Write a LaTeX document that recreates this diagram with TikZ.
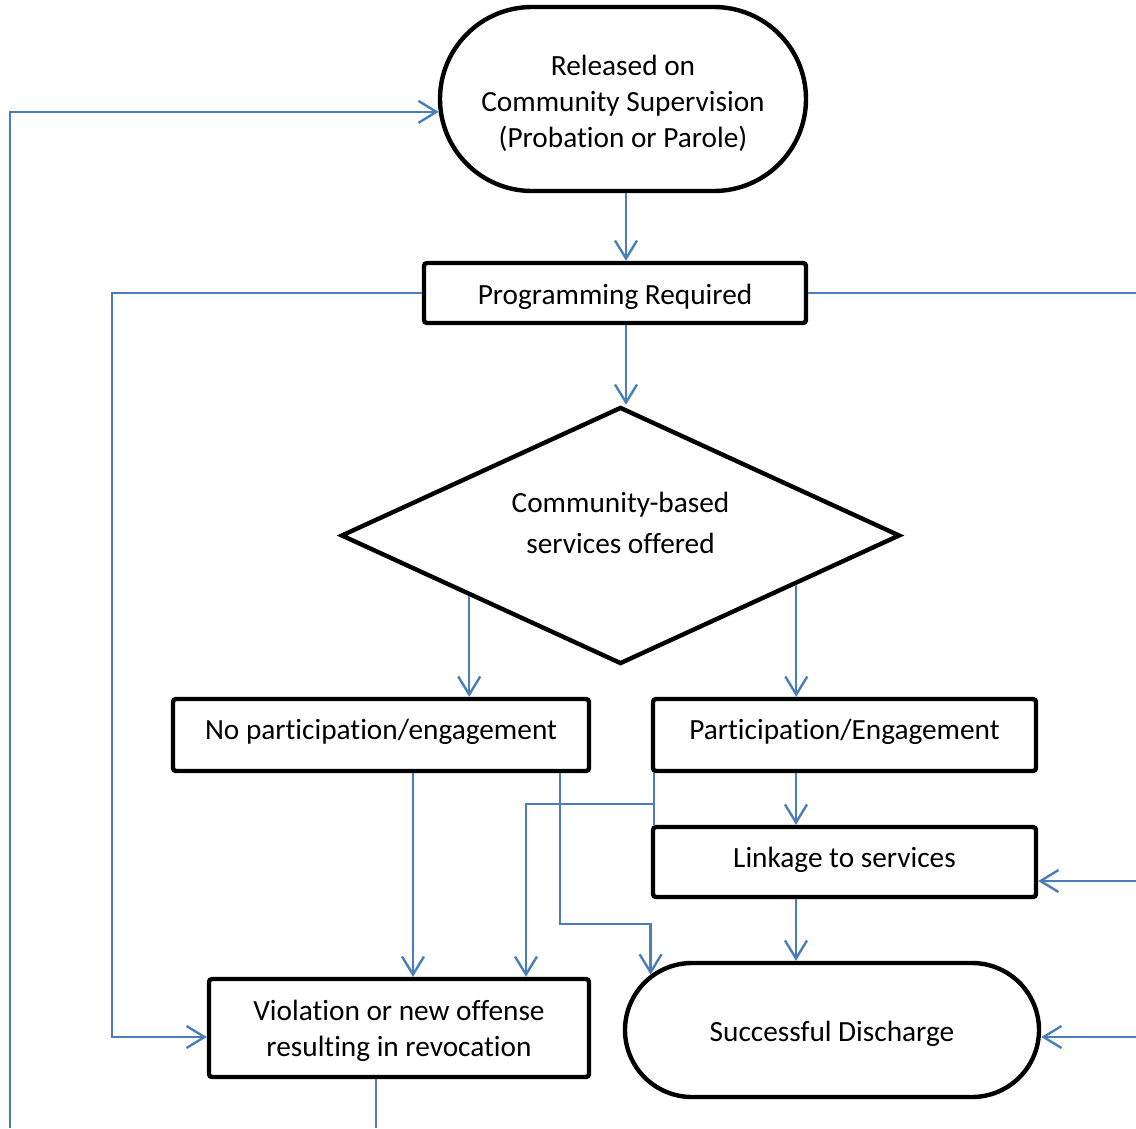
\documentclass[tikz,border=0pt]{standalone}
\usepackage{fontspec}
\setmainfont{Carlito}[Ligatures=NoCommon]
\usetikzlibrary{arrows.meta,shapes.geometric,shapes.misc,calc}
\definecolor{flowblue}{HTML}{4A7EBB}
\begin{document}
\begin{tikzpicture}[x=1pt,y=-1pt,
  every node/.style={font=\fontsize{29.3}{36}\selectfont, align=center, inner sep=0pt},
  box/.style={draw=black, line width=4.4pt, rounded corners=3pt, fill=white},
  term/.style={draw=black, line width=4.4pt, rounded rectangle, rounded rectangle arc length=180, fill=white},
  decide/.style={draw=black, line width=4.4pt, diamond, fill=white},
  link/.style={draw=flowblue, line width=2.4pt},
  arr/.style={link, -{Straight Barb[length=18pt,width=22pt,line width=2.4pt]}}]
\useasboundingbox (0,0) rectangle (1136,1128);

% shapes
\node[term, minimum width=366pt, minimum height=184pt] (top) at (623,99) {};
\node[box, minimum width=382pt, minimum height=60pt] (prog) at (615,293) {};
\node[decide, minimum width=559pt, minimum height=257pt] (dia) at (620.5,535.5) {};
\node[box, minimum width=416pt, minimum height=72pt] (nopart) at (381,735) {};
\node[box, minimum width=383pt, minimum height=72pt] (part) at (844.5,735) {};
\node[box, minimum width=383pt, minimum height=70pt] (lnk) at (844.5,862) {};
\node[box, minimum width=380pt, minimum height=98pt] (viol) at (399,1028) {};
\node[term, minimum width=414pt, minimum height=134pt] (dis) at (832,1030) {};

% texts
\node (top-t) at (623,103) {Released on\\Community Supervision\\(Probation or Parole)};
\node (prog-t) at (615,297) {Programming Required};
\node[font=\fontsize{29.3}{41}\selectfont] (dia-t) at (620.5,523) {Community-based\\services offered};
\node (nopart-t) at (381,732) {No participation/engagement};
\node (part-t) at (844.5,732) {Participation/Engagement};
\node (lnk-t) at (844.5,860) {Linkage to services};
\node (viol-t) at (399,1031) {Violation or new offense\\resulting in revocation};
\node (dis-t) at (832,1034) {Successful Discharge};

% helper positions for the connector routes
\coordinate (bl) at (10,1128);
\coordinate (x626) at (626,0);
\coordinate (x413) at (413,0);
\coordinate (x796) at (796,0);
\coordinate (lx) at (112,0);
\coordinate (yviol) at (0,1037);
\coordinate (rtop) at (1136,293);
\coordinate (rlink) at (1136,881);
\coordinate (rdis) at (1136,1037);
\coordinate (j) at (654,804);
\coordinate (k) at (526,804);
\coordinate (c) at (560,924);
\coordinate (vb) at (376,1128);
% exits on the lower edges of the decision
\coordinate (dl) at ($(dia.south)!0.537!(dia.west)$);
\coordinate (dr) at ($(dia.south)!0.624!(dia.east)$);

% connectors
\draw[arr] (bl) |- (top.184.3);
\draw[arr] (top.south -| x626) -- (prog.north -| x626);
\draw[arr] (prog.west) -| (lx |- yviol) -- (viol.west |- yviol);
\draw[link] (prog.east) -- (rtop);
\draw[arr] (prog.south -| x626) -- (dia.north -| x626);
\draw[arr] (dl) -- (dl |- nopart.north);
\draw[arr] (dr) -- (dr |- part.north);
\draw[arr] (part.south -| x796) -- (lnk.north -| x796);
\draw[arr] (lnk.south -| x796) -- (dis.north -| x796);
\draw[arr] (nopart.south -| x413) -- (viol.north -| x413);
\draw[link] (part.south -| j) -- (lnk.north -| j);
\draw[arr] (j) -- (k) -- (viol.north -| k);
\draw[arr] (nopart.south -| c) -- (c) -| (dis.163.8);
\draw[arr] (rlink) -- (lnk.east |- rlink);
\draw[arr] (rdis) -- (dis.east |- rdis);
\draw[link] (viol.south -| vb) -- (vb);
\end{tikzpicture}
\end{document}
